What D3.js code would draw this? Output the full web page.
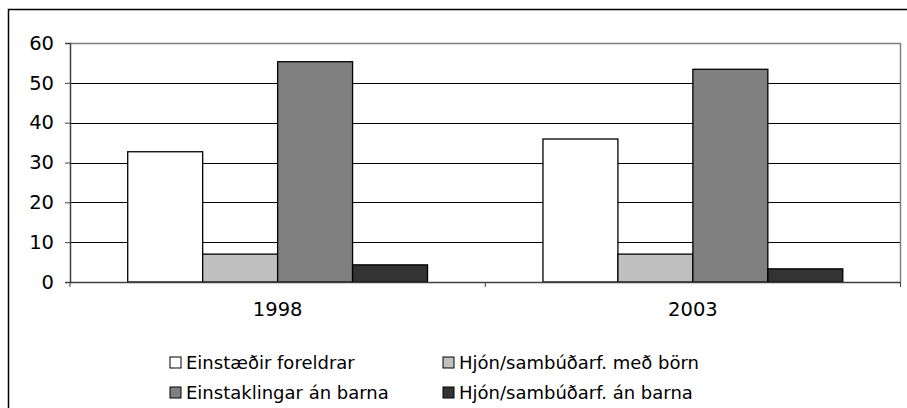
<!DOCTYPE html>
<html>
<head>
<meta charset="utf-8">
<script src="https://cdn.jsdelivr.net/npm/d3@7"></script>
<style>
  body { margin: 0; background: #fff; }
  text { font-family: "DejaVu Sans", Verdana, sans-serif; fill: #000; }
</style>
</head>
<body>
<div id="container"></div>
<script>
var years = ['1998', '2003'];
var series = ['Einstæðir foreldrar', 'Hjón/sambúðarf. með börn', 'Einstaklingar án barna', 'Hjón/sambúðarf. án barna'];
var colors = ['#ffffff', '#c0c0c0', '#808080', '#333333'];
var values1998 = [32.7, 7.0, 55.3, 4.3];
var values2003 = [35.9, 7.0, 53.4, 3.3];
var yTicks = [0, 10, 20, 30, 40, 50, 60];

var data = years.map(function(yr, i) {
    var v = i === 0 ? values1998 : values2003;
    return { year: yr, vals: series.map(function(s, j) { return { key: s, value: v[j], color: colors[j] }; }) };
});

var svgWidth = 907,
    svgHeight = 408,
    plotLeft = 70,
    plotRight = 900.5,
    plotTop = 43,
    plotBottom = 282,
    axisFont = '19.5px',
    legendFont = '18px';

var svg = d3.select('#container')
    .append('svg')
    .attr('width', svgWidth)
    .attr('height', svgHeight);

// outer frame
svg.append('path')
    .attr('d', 'M8.5,' + svgHeight + 'V9.5H' + svgWidth)
    .attr('fill', 'none')
    .attr('stroke', '#000')
    .attr('stroke-width', 1.5);

var scaleY = d3.scaleLinear().domain([0, 60]).range([plotBottom, plotTop]);
var scaleX = d3.scaleBand().domain(years).range([plotLeft, plotRight]);
var scaleX1 = d3.scaleBand().domain(series).range([0, scaleX.bandwidth()]).paddingOuter(0.77);

// gridlines
svg.append('g')
    .selectAll('line')
    .data(yTicks.filter(function(d) { return d > 0 && d < 60; }))
    .enter()
    .append('line')
    .attr('x1', plotLeft)
    .attr('x2', plotRight)
    .attr('y1', function(d) { return Math.round(scaleY(d)) + 0.5; })
    .attr('y2', function(d) { return Math.round(scaleY(d)) + 0.5; })
    .attr('stroke', '#000')
    .attr('stroke-width', 1);

// plot frame top and right
svg.append('path')
    .attr('d', 'M' + plotLeft + ',' + (plotTop + 0.5) + 'H' + plotRight + 'V' + plotBottom)
    .attr('fill', 'none')
    .attr('stroke', '#808080')
    .attr('stroke-width', 1.5);

var group = svg.selectAll('g.year')
    .data(data)
    .enter()
    .append('g')
    .attr('class', 'year')
    .attr('transform', function(d) { return 'translate(' + scaleX(d.year) + ',0)'; });

group.selectAll('rect')
    .data(function(d) { return d.vals; })
    .enter()
    .append('rect')
    .attr('x', function(d) { return scaleX1(d.key); })
    .attr('y', function(d) { return scaleY(d.value); })
    .attr('width', scaleX1.bandwidth())
    .attr('height', function(d) { return plotBottom - scaleY(d.value); })
    .attr('fill', function(d) { return d.color; })
    .attr('stroke', '#000')
    .attr('stroke-width', 1.3);

// y axis
var yAxis = svg.append('g')
    .attr('transform', 'translate(' + plotLeft + ',0)')
    .call(d3.axisLeft(scaleY).tickValues(yTicks).tickSize(5).tickPadding(11));
yAxis.select('.domain').attr('stroke', '#404040').attr('stroke-width', 1.5);
yAxis.selectAll('.tick line').attr('stroke', '#404040');
yAxis.selectAll('text').style('font-size', axisFont).attr('fill', '#000');

// x axis
var xAxis = svg.append('g')
    .attr('transform', 'translate(0,' + plotBottom + ')')
    .call(d3.axisBottom(scaleX).tickSize(0).tickPadding(20));
xAxis.select('.domain').attr('stroke', '#404040').attr('stroke-width', 1.5);
xAxis.selectAll('text').style('font-size', axisFont).attr('fill', '#000');
xAxis.selectAll('line.sep')
    .data([plotLeft, scaleX('2003'), plotRight])
    .enter()
    .append('line')
    .attr('class', 'sep')
    .attr('x1', function(d) { return d; })
    .attr('x2', function(d) { return d; })
    .attr('y1', 0)
    .attr('y2', 5)
    .attr('stroke', '#404040');

// legend
var legendPos = [[170, 357], [443, 357], [170, 387], [443, 387]];
var legend = svg.selectAll('g.legend')
    .data(series)
    .enter()
    .append('g')
    .attr('class', 'legend')
    .attr('transform', function(d, i) { return 'translate(' + legendPos[i][0] + ',' + legendPos[i][1] + ')'; });

legend.append('rect')
    .attr('width', 11)
    .attr('height', 11)
    .attr('fill', function(d, i) { return colors[i]; })
    .attr('stroke', '#000')
    .attr('stroke-width', 1);

legend.append('text')
    .text(function(d) { return d; })
    .attr('x', 16)
    .attr('y', 6)
    .attr('dy', '0.35em')
    .style('font-size', legendFont);
</script>
</body>
</html>
